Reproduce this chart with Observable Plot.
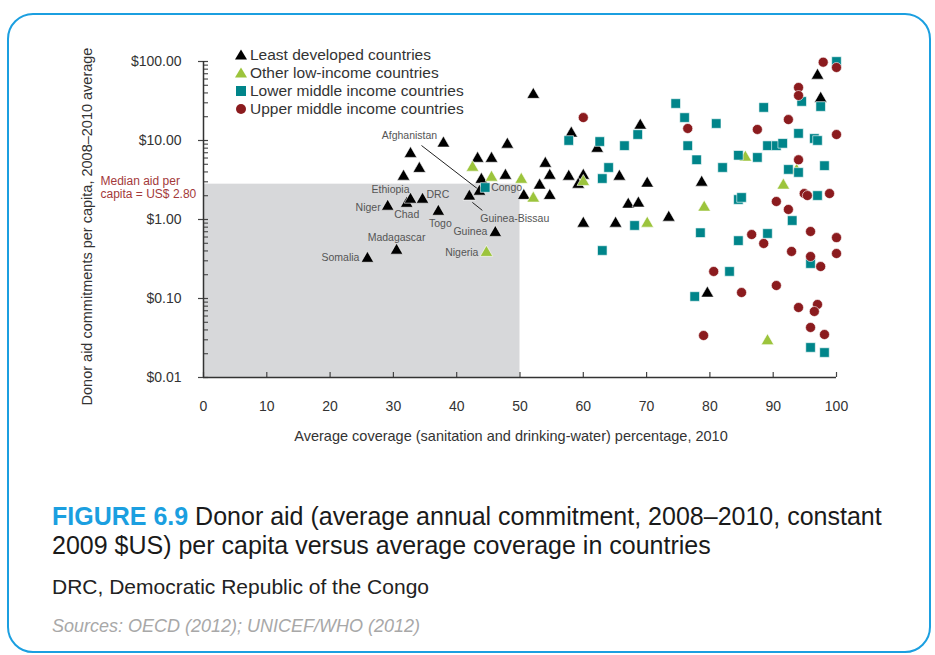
<!DOCTYPE html>
<html><head><meta charset="utf-8">
<script src="https://cdn.jsdelivr.net/npm/d3@7"></script>
<script src="https://cdn.jsdelivr.net/npm/@observablehq/plot@0.6"></script>
<style>
html,body{margin:0;padding:0;background:#fff;}
body{width:935px;height:655px;position:relative;overflow:hidden;font-family:"Liberation Sans",Arial,sans-serif;}
#card{position:absolute;left:7px;top:13px;width:920px;height:636px;border:2px solid #1b9fe0;border-radius:26px;}
#chart{position:absolute;left:0;top:0;}
#legend{position:absolute;left:233px;top:46px;font-size:15.5px;color:#333;}
#legend .row{height:18px;line-height:18px;display:flex;align-items:center;}
#legend svg{width:16px;height:18px;margin-right:1px;}
#title{position:absolute;left:52px;top:502px;width:870px;font-size:25px;line-height:29px;color:#1a1a1a;white-space:nowrap;}
#title b{color:#1b9fe0;}
#note{position:absolute;left:52px;top:575px;font-size:21px;color:#222;}
#src{position:absolute;left:52px;top:616px;font-size:18px;font-style:italic;color:#a8a8a8;}
</style></head>
<body>
<div id="card"></div>
<div id="chart"></div>
<div id="legend"></div>
<div id="title"><div><b>FIGURE 6.9</b> <span>Donor aid (average annual commitment, 2008–2010, constant</span></div><div>2009 $US) per capita versus average coverage in countries</div></div>
<div id="note">DRC, Democratic Republic of the Congo</div>
<div id="src">Sources: OECD (2012); UNICEF/WHO (2012)</div>
<script>
// ---------- categories ----------
const categories = ["Least developed countries", "Other low-income countries", "Lower middle income countries", "Upper middle income countries"];
const catColors = ["#000000", "#9cc43c", "#00858a", "#8b1b1e"];
const catSymbols = ["triangle", "triangle", "square", "circle"];

// ---------- series values (coverage %, aid per capita US$) ----------
const ldcX = [25.9, 30.5, 29.1, 32.1, 32.7, 34.6, 37.1, 46.1, 42.0, 43.6, 37.9, 32.7, 34.1, 31.6, 48.0, 43.3, 45.5, 47.7, 43.9, 54.0, 54.7, 53.1, 50.6, 54.7, 52.1, 58.1, 62.2, 69.0, 65.7, 70.1, 57.7, 60.0, 59.2, 67.1, 68.7, 73.5, 60.0, 65.1, 78.7, 79.6, 97.0, 97.5];
const ldcY = [0.32, 0.405, 1.46, 1.59, 1.79, 1.79, 1.26, 0.68, 1.96, 2.26, 9.2, 6.8, 4.4, 3.5, 8.9, 5.9, 5.9, 3.6, 3.2, 5.1, 3.6, 2.7, 2.0, 2.0, 38, 12.3, 7.9, 15.5, 3.5, 2.86, 3.5, 3.6, 2.77, 1.55, 1.6, 1.06, 0.89, 0.89, 2.94, 0.116, 66.5, 34];
const ldcNames = ["Somalia", "Madagascar", "Niger", "Chad", "Ethiopia", "DRC", "Togo", "Guinea", "Guinea-Bissau", "Afghanistan"];

const olicX = [44.7, 42.5, 45.5, 50.2, 52.1, 60.0, 70.1, 79.1, 85.6, 93.7, 91.6, 89.1];
const olicY = [0.38, 4.55, 3.4, 3.2, 1.85, 3.0, 0.89, 1.42, 6.1, 4.17, 2.7, 0.029];
const olicNames = ["Nigeria"];

const lmicX = [44.5, 57.7, 62.6, 68.6, 66.5, 64.0, 63.0, 68.1, 63.0, 74.6, 76.0, 81.0, 88.5, 76.5, 77.9, 84.5, 87.5, 82.0, 89.1, 90.5, 91.5, 94.0, 96.5, 97.0, 94.5, 97.5, 100, 92.4, 94.0, 98.1, 84.5, 85.0, 97.0, 93.0, 78.5, 84.5, 89.1, 95.9, 83.1, 77.6, 95.9, 98.1];
const lmicY = [2.54, 10, 9.7, 11.9, 8.6, 4.55, 3.3, 0.84, 0.405, 29.4, 19.5, 16.4, 26.2, 8.6, 5.7, 6.5, 6.1, 4.55, 8.6, 8.6, 9.2, 12.3, 10.6, 10.0, 31.2, 26.9, 100, 4.3, 3.94, 4.8, 1.79, 1.9, 2.01, 0.97, 0.68, 0.54, 0.665, 0.277, 0.22, 0.106, 0.024, 0.0207];
const lmicNames = ["Congo"];

const umicX = [60.0, 97.9, 100, 94.0, 94.0, 76.5, 92.4, 87.5, 100, 94.0, 94.9, 95.4, 98.9, 90.5, 92.4, 95.9, 100, 86.6, 88.5, 92.9, 95.9, 97.5, 100, 80.6, 90.5, 85.0, 94.0, 97.0, 96.5, 95.9, 98.1, 79.0];
const umicY = [19.5, 98, 84, 46.9, 37.1, 14.2, 18.4, 13.8, 11.9, 5.7, 2.13, 2.01, 2.13, 1.69, 1.34, 0.705, 0.59, 0.645, 0.497, 0.394, 0.34, 0.254, 0.371, 0.22, 0.146, 0.119, 0.0769, 0.084, 0.0685, 0.043, 0.035, 0.034];

// ---------- ticks & reference values ----------
const xTicks = [0, 10, 20, 30, 40, 50, 60, 70, 80, 90, 100];
const yTicks = [0.01, 0.1, 1, 10, 100];
const yTickLabels = ["$0.01", "$0.10", "$1.00", "$10.00", "$100.00"];
const medianAid = 2.8;
const medianCoverageBand = [0, 50];
const medianLabel = ["Median aid per", "capita = US$ 2.80"];

// ---------- build table ----------
const series = [[ldcX, ldcY, ldcNames], [olicX, olicY, olicNames], [lmicX, lmicY, lmicNames], [umicX, umicY, []]];
const points = [];
series.forEach(([xs, ys, names], c) => xs.forEach((x, i) => points.push({cat: categories[c], c, x, y: ys[i], name: names[i] || null})));

const minorTicks = [];
for (let k = 0; k < yTicks.length - 1; k++) for (let m = 2; m <= 9; m++) minorTicks.push(yTicks[k] * m);

// label placement (pixel offsets) for named countries
const labelStyle = {
  "Somalia": {anchor: "end", dx: -8, dy: -1},
  "Madagascar": {anchor: "middle", dx: 0, dy: -13},
  "Niger": {anchor: "end", dx: -7, dy: 1},
  "Ethiopia": {anchor: "end", dx: -1, dy: -10},
  "Chad": {anchor: "middle", dx: 0, dy: 11},
  "DRC": {anchor: "start", dx: 4, dy: -5},
  "Togo": {anchor: "middle", dx: 2, dy: 12},
  "Guinea": {anchor: "end", dx: -8, dy: -1},
  "Nigeria": {anchor: "end", dx: -8, dy: 0},
  "Congo": {anchor: "start", dx: 6, dy: 0},
  "Guinea-Bissau": {anchor: "start", dx: 11, dy: 22},
  "Afghanistan": {anchor: "middle", dx: -70, dy: -56}
};
const leaders = {"Afghanistan": [[-1, -2], [-58, -46]], "Guinea-Bissau": [[3, 6], [13, 14]]};

// geometry
const W = 935, H = 460, mL = 203, mR = 99, mT = 61, mB = 83;
const pxPerX = (W - mL - mR) / 100, pxPerDecade = (H - mT - mB) / 4;
const off = (d, p) => ({x: d.x + p[0] / pxPerX, y: d.y * Math.pow(10, -p[1] / pxPerDecade)});

const named = points.filter(d => d.name);
const labelMarks = named.map(d => {
  const s = labelStyle[d.name];
  return Plot.text([d], {x: "x", y: "y", text: "name", textAnchor: s.anchor, dx: s.dx, dy: s.dy, fill: "#555", fontSize: 10.5});
});
const leaderLinks = Object.keys(leaders).map(n => {
  const d = named.find(p => p.name === n);
  const a = off(d, leaders[n][0]), b = off(d, leaders[n][1]);
  return {x1: a.x, y1: a.y, x2: b.x, y2: b.y};
});

const dotMarks = categories.map((cat, c) => Plot.dot(points.filter(d => d.c === c), {
  x: "x", y: "y", symbol: () => catSymbols[c], fill: catColors[c],
  r: catSymbols[c] === "triangle" ? 4.7 : catSymbols[c] === "square" ? 5.4 : 5,
  stroke: "white", strokeWidth: 0.6
}));

const chart = Plot.plot({
  width: W, height: H, marginLeft: mL, marginRight: mR, marginTop: mT, marginBottom: mB,
  style: {fontFamily: "Liberation Sans, Arial, sans-serif", fontSize: "13px", color: "#333", background: "transparent", overflow: "visible"},
  x: {domain: [0, 100]},
  y: {type: "log", domain: [0.01, 100]},
  symbol: {type: "identity"},
  marks: [
    Plot.rect([{x1: medianCoverageBand[0], x2: medianCoverageBand[1], y1: 0.01, y2: medianAid}], {x1: "x1", x2: "x2", y1: "y1", y2: "y2", fill: "#d7d8da"}),
    Plot.axisX({ticks: xTicks, tickSize: 5, dy: -5, tickFormat: () => "", stroke: "#444", strokeWidth: 1.2, label: null}),
    Plot.axisX({ticks: xTicks, tickSize: 0, tickPadding: 24, tickFormat: d => String(d), fill: "#333", fontSize: 14, label: null}),
    Plot.axisY({ticks: minorTicks, tickSize: 5, dx: 5, tickFormat: () => "", stroke: "#444", strokeWidth: 1.1, label: null}),
    Plot.axisY({ticks: yTicks, tickSize: 10, dx: 5, tickFormat: () => "", stroke: "#444", strokeWidth: 1.2, label: null}),
    Plot.axisY({ticks: yTicks, tickSize: 0, tickPadding: 22, tickFormat: d => yTickLabels[yTicks.indexOf(d)], fill: "#333", fontSize: 14, label: null}),
    Plot.ruleX([0], {stroke: "#333", strokeWidth: 1.5, y1: 0.01, y2: 100}),
    Plot.ruleY([0.01], {stroke: "#333", strokeWidth: 1.5, x1: 0, x2: 100}),
    Plot.text(["Donor aid commitments per capita, 2008–2010 average"], {frameAnchor: "left", textAnchor: "middle", rotate: -90, dx: -116, dy: 7, fontSize: 14.5, fill: "#333"}),
    Plot.text(["Average coverage (sanitation and drinking-water) percentage, 2010"], {frameAnchor: "bottom", textAnchor: "middle", dx: -9, dy: 63, fontSize: 14.5, fill: "#333"}),
    Plot.text([medianLabel.join("\n")], {x: 0, y: medianAid, dx: -103, dy: 3, textAnchor: "start", lineHeight: 1.1, fill: "#a3393a", fontSize: 12}),
    Plot.link(leaderLinks, {x1: "x1", y1: "y1", x2: "x2", y2: "y2", stroke: "#222", strokeWidth: 1}),
    ...dotMarks,
    ...labelMarks
  ]
});
document.getElementById("chart").appendChild(chart);

// legend
const leg = document.getElementById("legend");
const shapes = {
  triangle: c => `<polygon points="8,3.5 14,13.5 2,13.5" fill="${c}"/>`,
  square: c => `<rect x="3" y="4" width="10" height="10" fill="${c}"/>`,
  circle: c => `<circle cx="8" cy="9" r="5" fill="${c}"/>`
};
categories.forEach((cat, c) => {
  const row = document.createElement("div");
  row.className = "row";
  row.innerHTML = `<svg viewBox="0 0 16 18">${shapes[catSymbols[c]](catColors[c])}</svg><span>${cat}</span>`;
  leg.appendChild(row);
});
</script>
</body></html>
